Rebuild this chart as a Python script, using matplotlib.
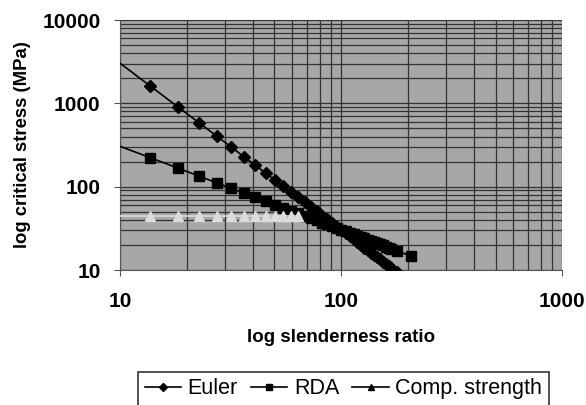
import matplotlib
matplotlib.use("Agg")
import matplotlib.pyplot as plt
from matplotlib.lines import Line2D
from matplotlib.ticker import LogLocator, FixedLocator, NullFormatter

plt.rcParams['font.family'] = ['Liberation Sans', 'DejaVu Sans']

# slenderness ratios of the computed sections
slenderness = [9.1, 13.7, 18.3, 22.8, 27.4, 31.9, 36.5, 41.0, 45.6, 50.2,
               54.7, 59.3, 63.8, 68.4, 73.0, 77.5, 82.1, 86.6, 91.2, 95.8,
               100.3, 104.9, 109.4, 114.0, 118.6, 123.1, 127.7, 132.2, 136.8,
               141.4, 145.9, 150.5, 155.0, 159.6, 164.1, 168.7, 180.0, 207.0]

# critical stress (MPa)
euler = [3659, 1614, 905, 583, 404, 298, 227, 180, 146, 120,
         101, 86.2, 74.4, 64.8, 56.9, 50.4, 45.0, 40.4, 36.4, 33.0,
         30.1, 27.5, 25.3, 23.3, 21.5, 20.0, 18.6, 17.3, 16.2,
         15.2, 14.2, 13.4, 12.6, 11.9, 11.3, 10.6, 9.4, 7.1]
rda = [335, 223, 167, 134, 111, 95.6, 83.6, 74.4, 66.9, 60.8,
       55.8, 51.4, 47.8, 44.6, 41.8, 39.4, 37.1, 35.2, 33.4, 31.8,
       30.4, 29.1, 27.9, 26.8, 25.7, 24.8, 23.9, 23.1, 22.3,
       21.6, 20.9, 20.3, 19.7, 19.1, 18.6, 18.1, 16.9, 14.7]
comp_slenderness = [9.1, 13.7, 18.3, 22.8, 27.4, 31.9, 36.5, 41.0, 45.6,
                    50.2, 54.7, 59.3, 63.8]
comp_strength = [45, 45, 45, 45, 45, 45, 45, 45, 45, 45, 45, 45, 45]

fig = plt.figure(figsize=(5.86, 4.05), dpi=100)
ax = fig.add_axes([0.2048, 0.3333, 0.7543, 0.6173])
ax.set_facecolor('#a7a7a7')

ax.plot(slenderness, euler, color='black', lw=1.2, marker='D', ms=6.2,
        zorder=3)
ax.plot(slenderness, rda, color='black', lw=1.2, marker='s', ms=6.5,
        zorder=3)
ax.plot(comp_slenderness, comp_strength, color='#dcdcdc', lw=1.2,
        marker='^', ms=6.5, mec='#dcdcdc', mfc='#dcdcdc', zorder=4)

ax.set_xscale('log')
ax.set_yscale('log')
ax.set_xlim(10, 1000)
ax.set_ylim(10, 10000)

ax.xaxis.set_major_locator(FixedLocator([10, 100, 1000]))
ax.yaxis.set_major_locator(FixedLocator([10, 100, 1000, 10000]))
ax.xaxis.set_minor_locator(LogLocator(base=10, subs=range(2, 10)))
ax.yaxis.set_minor_locator(LogLocator(base=10, subs=range(2, 10)))
ax.xaxis.set_minor_formatter(NullFormatter())
ax.yaxis.set_minor_formatter(NullFormatter())
ax.xaxis.set_major_formatter(plt.FuncFormatter(lambda v, p: '%d' % v))
ax.yaxis.set_major_formatter(plt.FuncFormatter(lambda v, p: '%d' % v))

ax.grid(True, which='both', color='#333333', lw=0.9)
ax.set_axisbelow(True)
ax.tick_params(which='minor', length=0)
ax.tick_params(which='major', length=4, width=0.8, color='#555555',
               labelsize=15)
for lbl in ax.get_xticklabels() + ax.get_yticklabels():
    lbl.set_fontweight('bold')
ax.tick_params(axis='x', pad=12)
ax.tick_params(axis='y', pad=10)

for side in ['top', 'right']:
    ax.spines[side].set_visible(False)
for side in ['left', 'bottom']:
    ax.spines[side].set_color('#555555')
    ax.spines[side].set_linewidth(0.8)

ax.set_xlabel('log slenderness ratio', fontsize=13.5, fontweight='bold',
              labelpad=13)
ax.set_ylabel('log critical stress (MPa)', fontsize=13.3, fontweight='bold',
              labelpad=8)

handles = [
    Line2D([], [], color='black', lw=1.2, marker='D', ms=4.5),
    Line2D([], [], color='black', lw=1.2, marker='s', ms=4.5),
    Line2D([], [], color='black', lw=1.2, marker='^', ms=4.5),
]
leg = fig.legend(handles, ['Euler', 'RDA', 'Comp. strength'], ncol=3,
                 loc='center', bbox_to_anchor=(0.586, 0.04),
                 fontsize=15.5, frameon=True, fancybox=False,
                 handlelength=1.7, handletextpad=0.3, columnspacing=0.6,
                 borderpad=0.3)
leg.get_frame().set_edgecolor('black')
leg.get_frame().set_linewidth(1.2)

fig.savefig('out.png', dpi=100)
